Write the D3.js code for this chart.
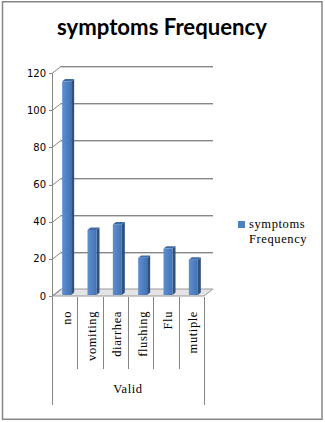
<!DOCTYPE html>
<html>
<head>
<meta charset="utf-8">
<script src="https://cdn.jsdelivr.net/npm/d3@7"></script>
<style>
  html, body { margin: 0; padding: 0; background: #fff; }
  svg { display: block; }
</style>
</head>
<body>
<svg id="chart" width="325" height="422"></svg>
<script>
// Frequencies by symptom
const categories = ["no", "vomiting", "diarrhea", "flushing", "Flu", "mutiple"];
const frequencies = [115, 35, 38, 20, 25, 19];
const yTicks = [0, 20, 40, 60, 80, 100, 120];
const groupLabel = "Valid";
const seriesName = ["symptoms", "Frequency"];
const titleText = "symptoms Frequency";

const svg = d3.select("#chart");

// Outer frame
svg.append("rect")
  .attr("x", 2.5).attr("y", 1.75)
  .attr("width", 319.5).attr("height", 417.5)
  .attr("fill", "#fff").attr("stroke", "#868686").attr("stroke-width", 1.5);

// Title, sized to a fixed width
const title = svg.append("text")
  .attr("x", 162).attr("y", 35)
  .attr("text-anchor", "middle")
  .attr("font-family", "Lato, 'Open Sans', sans-serif")
  .attr("font-weight", 700)
  .attr("font-size", 19)
  .attr("fill", "#000")
  .text(titleText);
const tw = title.node().getComputedTextLength();
title.attr("font-size", 19 * 210 / tw);

// Plot geometry (front plane + depth offset for the 3D walls)
const x0 = 52, x1 = 204;
const depth = { dx: 9, dy: -7 };
const x = d3.scaleBand().domain(categories).range([x0, x1]).paddingInner(0).paddingOuter(0);
const y = d3.scaleLinear().domain([0, 120]).range([296, 73]);

const grid = svg.append("g");

// Floor
const fy = y(0);
grid.append("path")
  .attr("d", `M${x0},${fy}L${x1},${fy}L${x1 + depth.dx},${fy + depth.dy}L${x0 + depth.dx},${fy + depth.dy}Z`)
  .attr("fill", "#e4e4e4").attr("stroke", "#9a9a9a").attr("stroke-width", 1);

// Gridlines: diagonal on side wall, then along back wall (with light shadow)
yTicks.forEach(t => {
  const yy = Math.round(y(t)) + 0.5;
  if (t > 0) {
    grid.append("line")
      .attr("x1", x0 + depth.dx).attr("x2", x1 + depth.dx)
      .attr("y1", yy + depth.dy + 1).attr("y2", yy + depth.dy + 1)
      .attr("stroke", "#cfcfcf").attr("stroke-width", 1);
    grid.append("line")
      .attr("x1", x0 + depth.dx).attr("x2", x1 + depth.dx)
      .attr("y1", yy + depth.dy).attr("y2", yy + depth.dy)
      .attr("stroke", "#868686").attr("stroke-width", 1);
  }
  grid.append("line")
    .attr("x1", x0).attr("y1", yy)
    .attr("x2", x0 + depth.dx).attr("y2", yy + depth.dy)
    .attr("stroke", "#868686").attr("stroke-width", 1);
  grid.append("line")
    .attr("x1", x0 - 3).attr("x2", x0)
    .attr("y1", yy).attr("y2", yy)
    .attr("stroke", "#868686").attr("stroke-width", 1);
});

// Value axis line
grid.append("line")
  .attr("x1", x0 + 0.5).attr("x2", x0 + 0.5)
  .attr("y1", y(0)).attr("y2", y(120))
  .attr("stroke", "#868686").attr("stroke-width", 1);

// Value axis labels
svg.append("g").selectAll("text")
  .data(yTicks).join("text")
  .attr("x", 46).attr("y", d => y(d))
  .attr("dy", "0.35em")
  .attr("text-anchor", "end")
  .attr("font-family", "'DejaVu Sans', Verdana, sans-serif")
  .attr("font-size", 10)
  .attr("fill", "#000")
  .text(d => d);

// Bars with front, side and top faces
const defs = svg.append("defs");
const gFront = defs.append("linearGradient").attr("id", "front").attr("x1", 0).attr("x2", 1).attr("y1", 0).attr("y2", 0);
gFront.append("stop").attr("offset", 0).attr("stop-color", "#5d8fd0");
gFront.append("stop").attr("offset", 1).attr("stop-color", "#4473b3");

const barW = 9, sideW = 3, topH = 2.4, shift = 2, lift = 1;
const bars = svg.append("g").selectAll("g")
  .data(categories.map((c, i) => ({ c, v: frequencies[i] })))
  .join("g");

bars.each(function(d) {
  const g = d3.select(this);
  const left = x(d.c) + x.bandwidth() / 2 - barW / 2 + shift;
  const top = y(d.v) - lift;
  const bottom = y(0) - lift;
  g.append("path")
    .attr("d", `M${left + barW},${top}L${left + barW + sideW},${top - topH}L${left + barW + sideW},${bottom - topH}L${left + barW},${bottom}Z`)
    .attr("fill", "#30517f");
  g.append("path")
    .attr("d", `M${left},${top}L${left + sideW},${top - topH}L${left + barW + sideW},${top - topH}L${left + barW},${top}Z`)
    .attr("fill", "#3f6aa6");
  g.append("rect")
    .attr("x", left).attr("y", top)
    .attr("width", barW).attr("height", bottom - top)
    .attr("fill", "url(#front)");
});

// Category axis: separators, labels and group label
const cat = svg.append("g");
const bounds = categories.map(c => x(c)).concat([x1]);
bounds.forEach((bx, i) => {
  const outer = i === 0 || i === bounds.length - 1;
  cat.append("line")
    .attr("x1", Math.round(bx) + 0.5).attr("x2", Math.round(bx) + 0.5)
    .attr("y1", 297).attr("y2", outer ? 405 : 369)
    .attr("stroke", "#868686").attr("stroke-width", 1);
});

cat.selectAll("text.cat")
  .data(categories).join("text")
  .attr("class", "cat")
  .attr("transform", d => `translate(${x(d) + x.bandwidth() / 2 + 6},311) rotate(-90)`)
  .attr("text-anchor", "end")
  .attr("font-family", "'Liberation Serif', 'Times New Roman', serif")
  .attr("font-size", 12.5)
  .attr("letter-spacing", 0.6)
  .attr("fill", "#000")
  .text(d => d);

cat.append("text")
  .attr("x", (x0 + x1) / 2).attr("y", 393)
  .attr("text-anchor", "middle")
  .attr("font-family", "'Liberation Serif', 'Times New Roman', serif")
  .attr("font-size", 12.5)
  .attr("letter-spacing", 0.6)
  .attr("fill", "#000")
  .text(groupLabel);

// Legend
const legend = svg.append("g");
legend.append("rect")
  .attr("x", 238).attr("y", 221)
  .attr("width", 7).attr("height", 7)
  .attr("fill", "#4f81bd");
legend.append("text")
  .attr("font-family", "'Liberation Serif', 'Times New Roman', serif")
  .attr("font-size", 12.5)
  .attr("letter-spacing", 0.6)
  .attr("fill", "#000")
  .selectAll("tspan")
  .data(seriesName).join("tspan")
  .attr("x", 249)
  .attr("y", (d, i) => 227.5 + i * 15.5)
  .text(d => d);
</script>
</body>
</html>
